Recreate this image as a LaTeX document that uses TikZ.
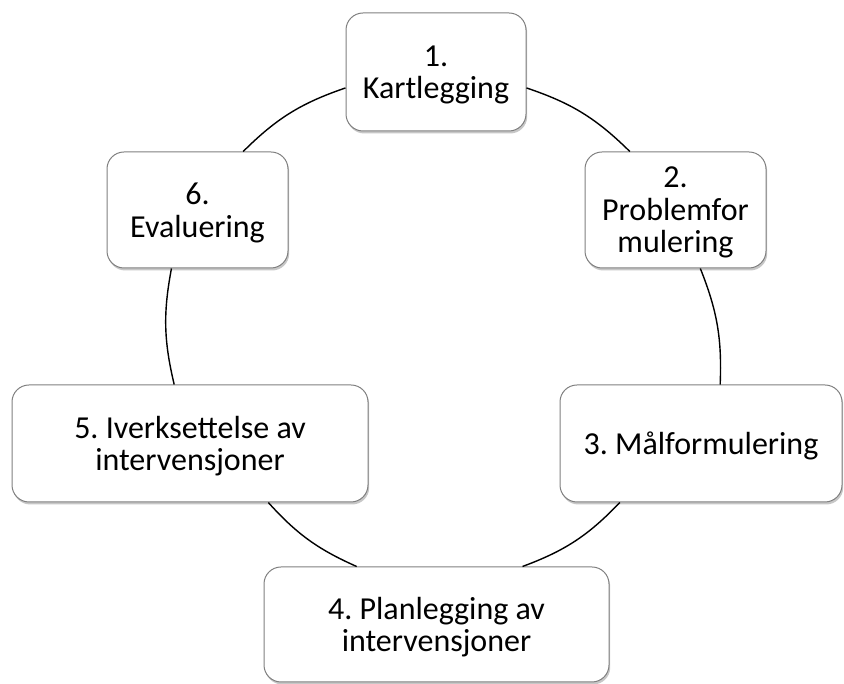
\documentclass[tikz,border=0pt]{standalone}
\usepackage{fontspec}
\setmainfont{Carlito}
\usetikzlibrary{shadows}
\frenchspacing
\begin{document}
\begin{tikzpicture}[x=1pt,y=1pt,
  box/.style={draw=black!50, line width=1pt, fill=white, rounded corners=17pt,
    align=center, inner sep=0pt, minimum height=117pt, text depth=-1.5pt,
    font=\fontsize{32}{32.5}\selectfont,
    drop shadow={shadow xshift=1.2pt, shadow yshift=-2.5pt, fill=black, opacity=0.22}},
  arc/.style={draw=black, line width=1.4pt}]
\useasboundingbox (0,0) rectangle (844,684);
\node[box, minimum width=180pt, minimum height=118pt] (n1) at (436,612) {1.\\Kartlegging};
\node[box, minimum width=181pt, minimum height=116pt] (n2) at (675.5,474) {2.\\Problemfor\\mulering};
\node[box, minimum width=282pt] (n3) at (701,240.5) {3. Målformulering};
\node[box, minimum width=345pt, minimum height=115pt] (n4) at (436.5,59.5) {4. Planlegging av\\intervensjoner};
\node[box, minimum width=356pt] (n5) at (190,240.5) {5. Iverksettelse av\\intervensjoner};
\node[box, minimum width=181pt, minimum height=116pt] (n6) at (197.5,474) {6.\\Evaluering};
\draw[arc] (n1.190) to[bend right=13] (n6.52);
\draw[arc] (n6.246) to[bend right=12] (n5.105);
\draw[arc] (n5.323) to[bend right=12] (n4.144);
\draw[arc] (n4.34) to[bend right=13] (n3.216);
\draw[arc] (n3.72) to[bend right=12] (n2.293);
\draw[arc] (n2.128) to[bend right=13] (n1.350);
\end{tikzpicture}
\end{document}
